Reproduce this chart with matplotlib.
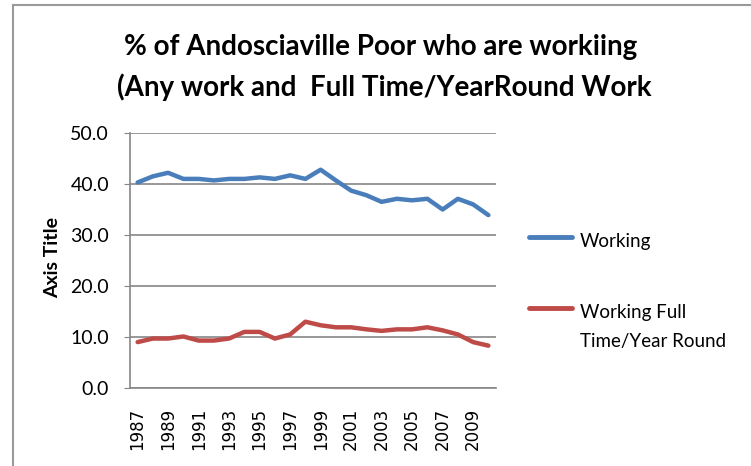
import numpy as np
import matplotlib.pyplot as plt
from matplotlib.lines import Line2D

years = list(range(1987, 2011))
working = [40.3, 41.5, 42.2, 41.0, 41.0, 40.7, 41.0, 41.0, 41.3, 41.0, 41.7, 41.0,
           42.8, 40.7, 38.7, 37.8, 36.5, 37.1, 36.8, 37.1, 35.0, 37.1, 36.0, 33.9]
fulltime = [9.0, 9.7, 9.7, 10.1, 9.3, 9.3, 9.7, 11.0, 11.0, 9.7, 10.5, 13.0,
            12.3, 11.9, 11.9, 11.5, 11.2, 11.5, 11.5, 11.9, 11.3, 10.5, 9.0, 8.3]
yticks = [0, 10, 20, 30, 40, 50]
series_names = ['Working', 'Working Full\nTime/Year Round']
colors = ['#4A7EBB', '#BE4B48']

plt.rcParams['font.family'] = ['Lato', 'DejaVu Sans']

W, H = 751, 466
fig = plt.figure(figsize=(W / 100, H / 100), dpi=100)
ax = fig.add_axes([130 / W, 1 - 388 / H, 366 / W, 255 / H])

x = np.arange(len(years))
for vals, c in zip([working, fulltime], colors):
    ax.plot(x, vals, color=c, lw=3.2, solid_capstyle='round', solid_joinstyle='round')

ax.set_xlim(-0.5, len(years) - 0.5)
ax.set_ylim(0, 50)
ax.set_yticks(yticks)
ax.set_yticklabels(['%.1f' % v for v in yticks], fontsize=14)
ax.set_xticks(x[::2])
ax.set_xticklabels([str(y) for y in years[::2]], rotation=90, fontsize=12,
                   family='DejaVu Sans')
ax.tick_params(axis='x', length=0, pad=14)
ax.tick_params(axis='y', length=4, color='#868686', pad=11)
ax.grid(axis='y', color='#868686', lw=1.2)
ax.set_axisbelow(True)
for s in ['top', 'right']:
    ax.spines[s].set_visible(False)
for s in ['left', 'bottom']:
    ax.spines[s].set_color('#868686')
    ax.spines[s].set_linewidth(1.2)

fig.text(53 / W, 1 - 258 / H, 'Axis Title', rotation=90, ha='center', va='center',
         fontsize=14, fontweight='bold')

fig.text(381 / W, 1 - 55 / H, '% of Andosciaville Poor who are workiing', ha='center',
         va='baseline', fontsize=20, fontweight='bold')
fig.text(384 / W, 1 - 96 / H, '(Any work and  Full Time/YearRound Work', ha='center',
         va='baseline', fontsize=20, fontweight='bold')

# legend, drawn by hand so the line sits beside the first text line
leg_y = [237, 308]
for name, c, yy in zip(series_names, colors, leg_y):
    fig.add_artist(Line2D([529 / W, 572 / W], [1 - yy / H, 1 - yy / H], color=c, lw=3.5,
                          solid_capstyle='round'))
    fig.text(580 / W, 1 - (yy + 10) / H, name.split('\n')[0], ha='left', va='baseline',
             fontsize=13.5)
    if '\n' in name:
        fig.text(580 / W, 1 - (yy + 39) / H, name.split('\n')[1], ha='left', va='baseline',
                 fontsize=13.5)

# chart-area border (top and left)
fig.add_artist(Line2D([13 / W, 1.0], [1 - 5 / H, 1 - 5 / H], color='#9a9a9a', lw=1.5))
fig.add_artist(Line2D([13 / W, 13 / W], [0.0, 1 - 5 / H], color='#9a9a9a', lw=1.5))

fig.savefig('out.png', dpi=100)
